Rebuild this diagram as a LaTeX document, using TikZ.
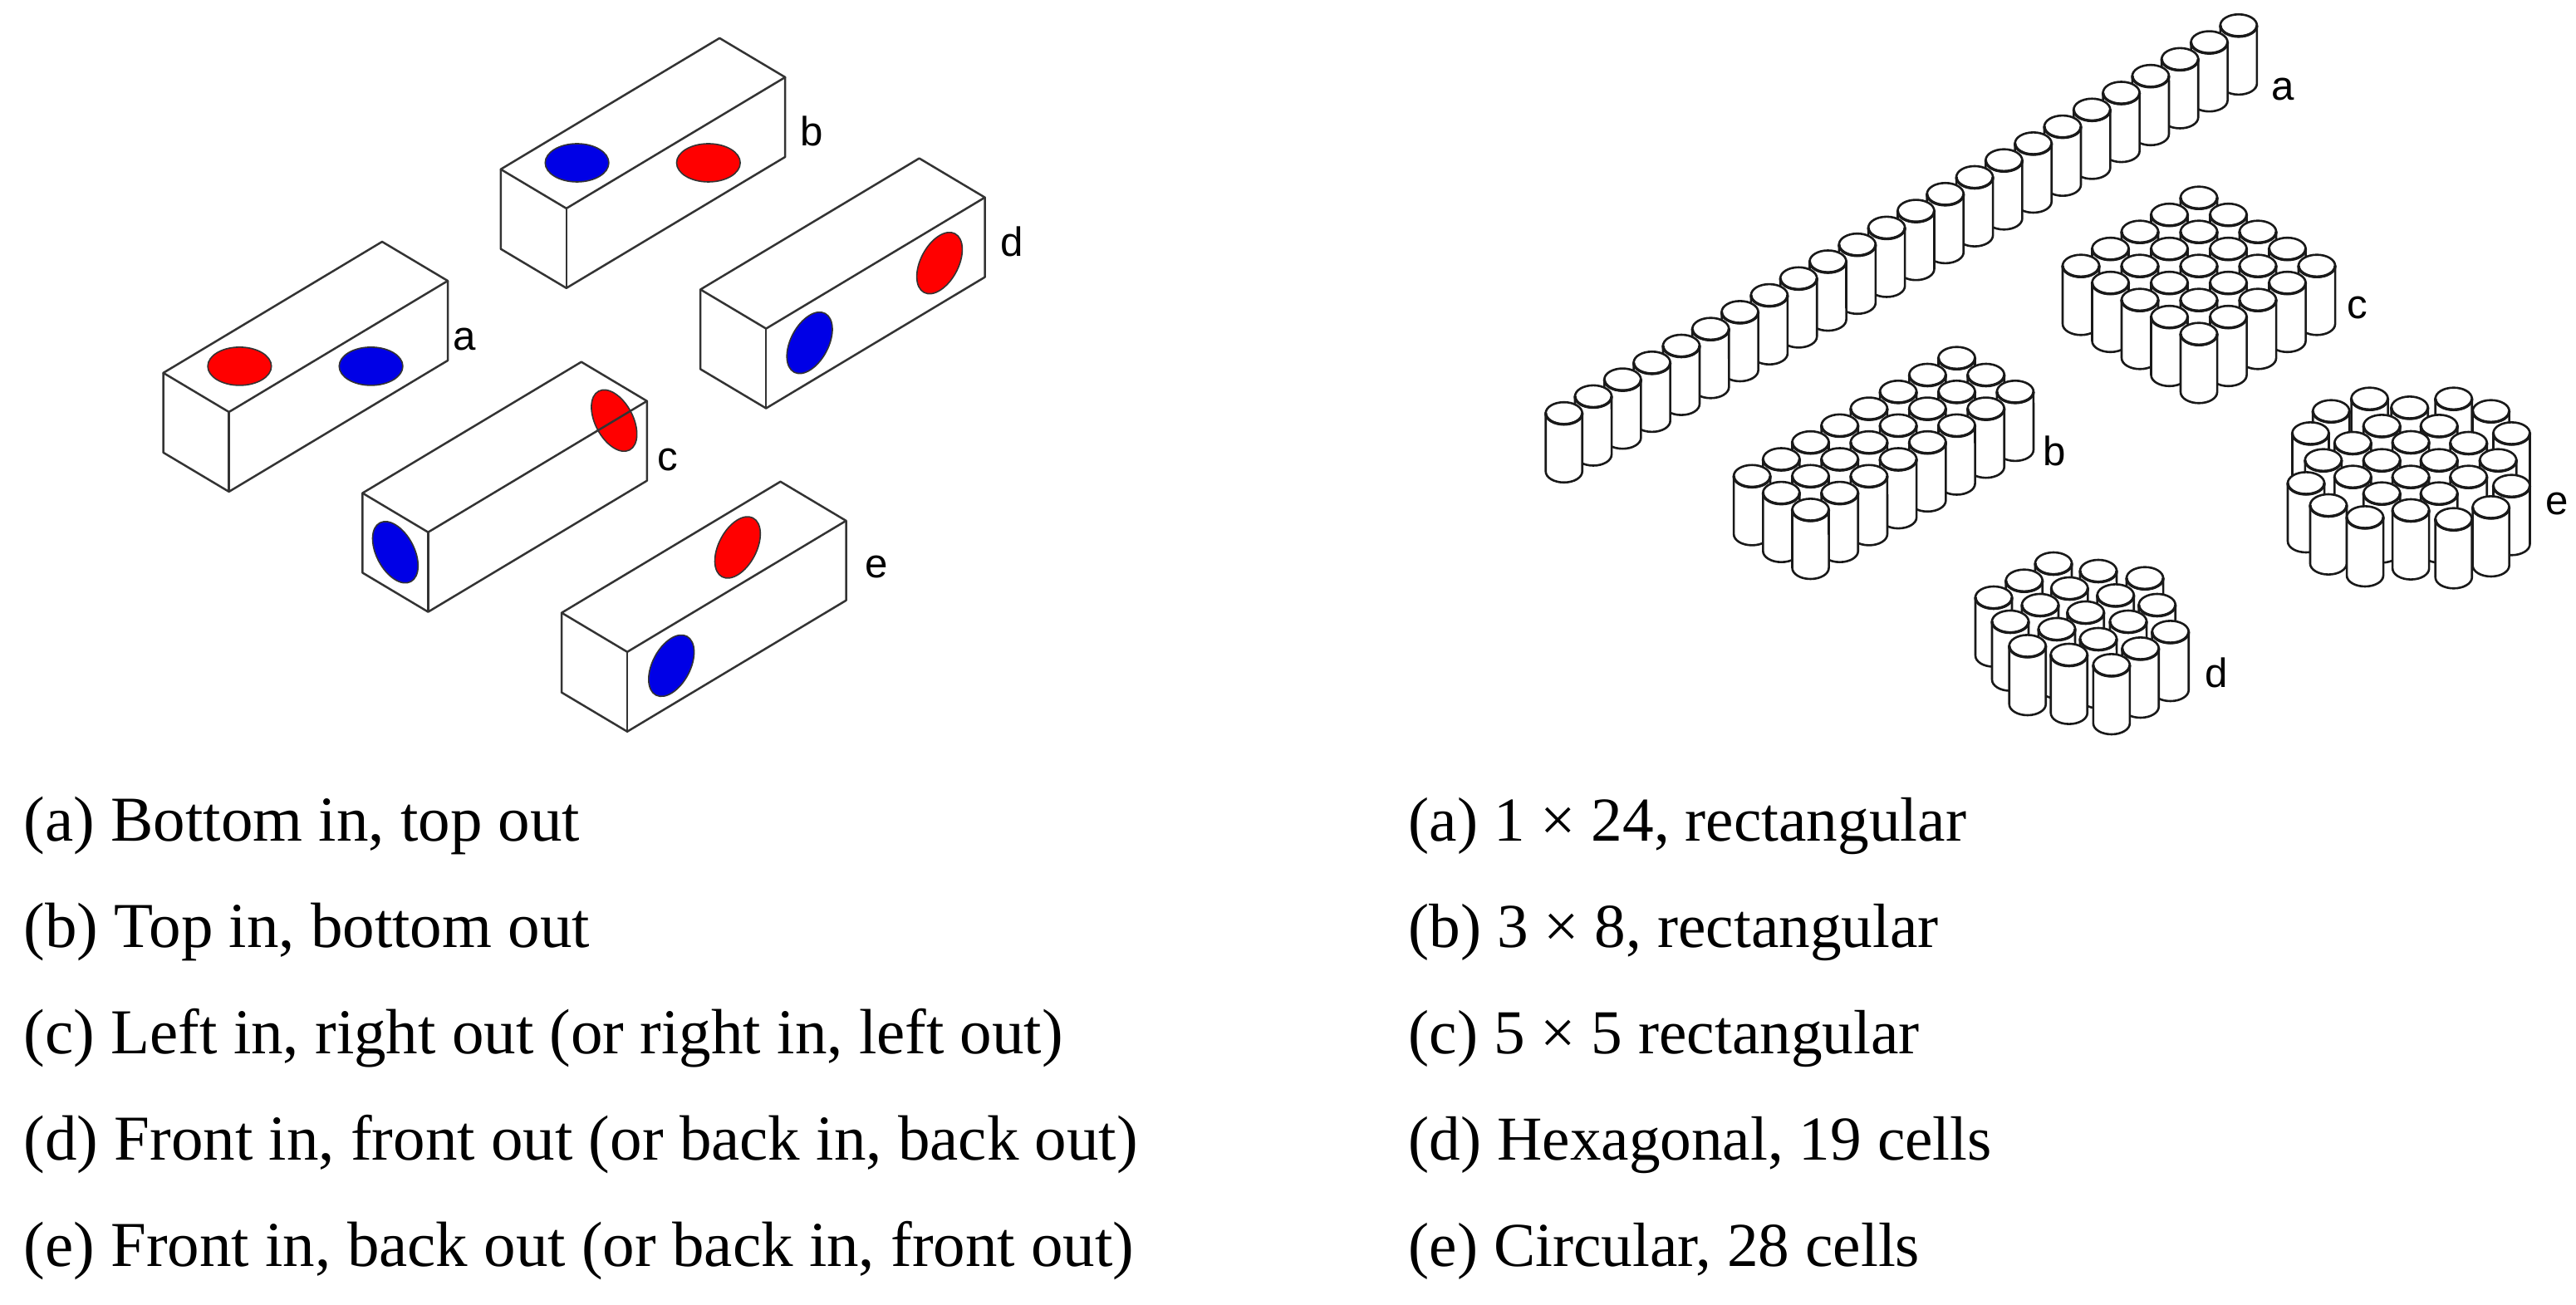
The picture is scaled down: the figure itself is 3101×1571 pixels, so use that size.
\documentclass[tikz,border=0pt]{standalone}
\usepackage{fontspec}
\setmainfont{Liberation Serif}
\newfontfamily\lblfont{Liberation Sans}
\definecolor{boxline}{HTML}{333333}
\definecolor{inred}{HTML}{FF0000}
\definecolor{inblue}{HTML}{0000E6}
\tikzset{
  boxedge/.style={draw=boxline,line width=.025cm,line join=round},
  portred/.style={fill=inred,draw=black!80,line width=.016cm},
  portblue/.style={fill=inblue,draw=black!80,line width=.016cm},
  cyledge/.style={draw=black!90,fill=white,line width=.026cm},
  lowarc/.style={draw=black!90,line width=.034cm},
  lbl/.style={font=\lblfont\fontsize{14}{16}\selectfont,inner sep=0pt,text=black},
  caption/.style={font=\fontsize{21.9}{26}\selectfont,anchor=base west,inner sep=0pt,text=black},
  captionr/.style={caption,font=\fontsize{21.4}{26}\selectfont}
}
\newcommand{\ductbox}[2]{%
  \draw[boxedge] (#1,#2) -- ++(79,47.1) -- ++(263.4,-157.9) -- ++(-79,-47.1) -- cycle;
  \draw[boxedge] (#1,#2) -- ++(0,95.9) -- ++(79,47.1) -- ++(263.4,-157.9) -- ++(0,-95.9);
  \draw[boxedge] (#1+79,#2+47.1) -- ++(0,95.9);
}
\newcommand{\flatport}[3]{\path[#1] (#2,#3) ellipse[x radius=.383cm,y radius=.23cm];}
\newcommand{\lean}[4]{\path[#1] (#2,#3) ellipse[x radius=.40cm,y radius=.227cm,rotate=#4];}
\newcommand{\cyl}[2]{%
  \path[cyledge] (#1-22,#2) -- (#1-22,#2+70) arc[start angle=180,end angle=360,x radius=.22cm,y radius=.133cm] -- (#1+22,#2) -- cycle;
  \path[cyledge] (#1,#2) ellipse[x radius=.22cm,y radius=.133cm];
  \draw[lowarc] (#1-22,#2) arc[start angle=180,end angle=360,x radius=.22cm,y radius=.133cm];
}
\begin{document}
\begin{tikzpicture}[x=.01cm,y=-.01cm]
\useasboundingbox (0,0) rectangle (3101,1571);
% boxes: ports first, edges over them
\flatport{portred}{288.4}{440.9}\flatport{portblue}{446.6}{440.9}
\ductbox{196.6}{448.9}
\flatport{portblue}{694.6}{196}\flatport{portred}{852.8}{196}
\ductbox{602.8}{203.8}
\lean{portred}{739.3}{506.3}{-62.3}\lean{portblue}{475.9}{664.8}{-62.3}
\ductbox{436.4}{593.6}
\lean{portblue}{974.6}{412.7}{62.3}\lean{portred}{1131}{316.7}{62.3}
\ductbox{843.2}{348.5}
\lean{portred}{887.9}{659}{62.3}\lean{portblue}{808.2}{801.4}{62.3}
\ductbox{676.1}{737.7}
\node[lbl] (la) at (558.8,408.7) {a};
\node[lbl] (lb) at (977,158) {b};
\node[lbl] (lc) at (803.7,554) {c};
\node[lbl] (ld) at (1218.5,291) {d};
\node[lbl] (le) at (1055.6,683) {e};
% cylinders a
\foreach \k in {23,22,...,0}{\pgfmathsetmacro\cx{1882.7+35.31*\k}\pgfmathsetmacro\cy{497.5-20.3*\k}\cyl{\cx}{\cy}}
% cylinders c: 5x5
\foreach \s in {0,...,8}{\foreach \i in {0,...,4}{\pgfmathtruncatemacro\j{\s-\i}\ifnum\j<0\else\ifnum\j>4\else
  \pgfmathsetmacro\cx{2647+35.5*(\j-\i)}\pgfmathsetmacro\cy{238+20.5*\s}\cyl{\cx}{\cy}\fi\fi}}
% cylinders b: 3x8
\foreach \s in {0,...,9}{\foreach \i in {0,...,7}{\pgfmathtruncatemacro\j{\s-\i}\ifnum\j<0\else\ifnum\j>2\else
  \pgfmathsetmacro\cx{2355.5+35.2*(\j-\i)}\pgfmathsetmacro\cy{431+20.3*\s}\cyl{\cx}{\cy}\fi\fi}}
% cylinders d
\foreach \cx/\cy in {2472/678.3,2526/687.3,2582/696,2436.7/699,2491.3/708.3,2546.7/716.7,2400/719.3,2596.7/728.3,2456/728.3,2510.7/737.3,2562/748.3,2420/748.3,2476/757.3,2612.7/760.7,2526/769.3,2440.7/777.7,2576.7/780.7,2490.7/788.3,2541.8/800.7}{\cyl{\cx}{\cy}}
% cylinders e
\foreach \cx/\cy in {2852.5/480,2953.7/480,2900.7/490.7,2806.2/495,2998.6/495,2867.2/512.7,2936.2/512.7,2781.4/521.7,3023.4/521.7,2902.1/532.3,2832.3/533.3,2971.7/533.3,2796.8/554,2867.2/554,2936.2/554,3007.2/554,2832.3/574,2902.1/574,2971.7/574,2776/581.7,3023.4/585,2867.2/594,2936.2/594,2802.9/608.3,2998.6/610.7,2902.1/614.3,2847/622.7,2953.7/625}{\cyl{\cx}{\cy}}
\node[lbl] (ra) at (2748,108) {a};
\node[lbl] (rb) at (2473,543) {b};
\node[lbl] (rc) at (2837.5,371) {c};
\node[lbl] (rd) at (2668,810) {d};
\node[lbl] (re) at (3078,607) {e};
% captions
\node[caption] (c1) at (28,1012) {(a) Bottom in, top out};
\node[caption] (c2) at (28,1140) {(b) Top in, bottom out};
\node[caption] (c3) at (28,1268) {(c) Left in, right out (or right in, left out)};
\node[caption] (c4) at (28,1396) {(d) Front in, front out (or back in, back out)};
\node[caption] (c5) at (28,1524) {(e) Front in, back out (or back in, front out)};
\node[captionr] (d1) at (1695,1012) {(a) 1 × 24, rectangular};
\node[captionr] (d2) at (1695,1140) {(b) 3 × 8, rectangular};
\node[captionr] (d3) at (1695,1268) {(c) 5 × 5 rectangular};
\node[captionr] (d4) at (1695,1396) {(d) Hexagonal, 19 cells};
\node[captionr] (d5) at (1695,1524) {(e) Circular, 28 cells};
\end{tikzpicture}
\end{document}
